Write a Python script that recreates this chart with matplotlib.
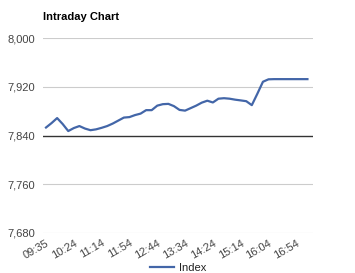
import matplotlib
matplotlib.use("Agg")
import matplotlib.pyplot as plt

plt.rcParams['font.family'] = ['Liberation Sans', 'DejaVu Sans']

title = "Intraday Chart"
series_name = "Index"
tick_labels = ["09:35", "10:24", "11:14", "11:54", "12:44",
               "13:34", "14:24", "15:14", "16:04", "16:54"]
values = [7853.1, 7860.4, 7868.6, 7858.8, 7847.3, 7852.2, 7855.5, 7851.4,
          7848.7, 7850.1, 7852.6, 7855.5, 7859.6, 7864.5, 7869.4, 7870.2,
          7873.5, 7875.9, 7881.6, 7881.6, 7889.0, 7891.4, 7891.9, 7888.2,
          7882.0, 7880.8, 7884.9, 7889.0, 7893.9, 7897.1, 7894.2, 7900.4,
          7901.2, 7900.4, 7898.8, 7897.6, 7896.3, 7889.8, 7908.6, 7928.2,
          7932.2, 7932.5, 7932.5, 7932.5, 7932.5, 7932.5, 7932.5, 7932.5]
y_ticks = [7680, 7760, 7840, 7920, 8000]
baseline = 7840
points_per_label = 5

W, H = 355, 273
fig = plt.figure(figsize=(W / 100, H / 100), dpi=100)
ax = fig.add_axes([43 / W, 1 - 233 / H, 270 / W, 195 / H])

x = list(range(len(values)))
line, = ax.plot(x, values, color="#4366a8", lw=1.6, solid_joinstyle='round',
                label=series_name, zorder=3)

ax.set_ylim(7680, 8000)
ax.set_xlim(-0.54, 48.0)
ax.set_yticks(y_ticks)
ax.set_yticklabels([f"{v:,}" for v in y_ticks])
for v in y_ticks:
    if v == baseline:
        ax.axhline(v, color="#333333", lw=1.0, zorder=2)
    else:
        ax.axhline(v, color="#cccccc", lw=0.8, zorder=1)

ax.set_xticks([i * points_per_label for i in range(len(tick_labels))])
ax.set_xticklabels(tick_labels, rotation=30, ha='right', va='top',
                   rotation_mode='anchor')
ax.tick_params(axis='x', length=0, pad=3.5, labelsize=8, labelcolor="#444444")
ax.tick_params(axis='y', length=0, pad=5.5, labelsize=8, labelcolor="#444444")
for s in ax.spines.values():
    s.set_visible(False)

fig.text(43 / W, 1 - 17 / H, title, fontsize=8, fontweight='bold',
         va='center', ha='left', color="#000000")

fig.legend(handles=[line], loc='center', bbox_to_anchor=(178 / W, 1 - 268 / H),
           frameon=False, fontsize=8, handlelength=2.2, handletextpad=0.4,
           labelcolor="#222222")

fig.savefig("out.png", dpi=100)
